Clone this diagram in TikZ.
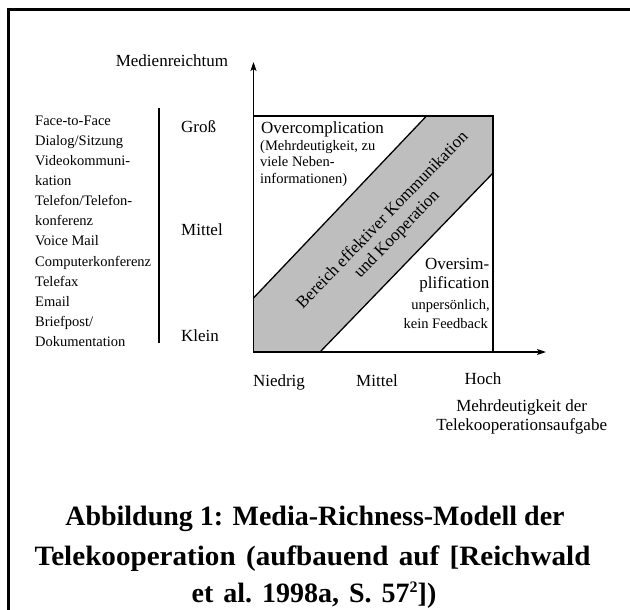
\documentclass[tikz,border=0pt]{standalone}
\usepackage{fontspec}
\setmainfont{Liberation Serif}
\usetikzlibrary{arrows.meta}
\newcommand\fsz[2]{\fontsize{#1}{#2}\selectfont}
\definecolor{bandgray}{RGB}{190,190,190}
\tikzset{
  txtsmall/.style={font=\fsz{14.5}{17}, inner sep=0pt},
  txtnormal/.style={font=\fsz{17}{20}, inner sep=0pt},
  txtcap/.style={font=\fsz{28}{39}\bfseries, inner sep=0pt},
  axisline/.style={line width=1.3pt, -{Stealth[length=9pt,width=6pt,inset=2pt]}},
  frameline/.style={line width=3pt},
  boxline/.style={line width=1.5pt},
  bandline/.style={line width=1.3pt},
  bandfill/.style={fill=bandgray},
}
\begin{document}
\begin{tikzpicture}[x=1pt,y=-1pt]
\useasboundingbox (0,0) rectangle (630,610);
% frame (top and left only)
\coordinate (f1) at (8.5,610);
\coordinate (f2) at (8.5,9.5);
\coordinate (f3) at (630,9.5);
\draw[frameline] (f1) -- (f2) -- (f3);
% band
\coordinate (O) at (253.5,352);
\coordinate (BL) at (253.5,298);
\coordinate (TL) at (253.5,116);
\coordinate (TU) at (426.5,116);
\coordinate (TR) at (493,116);
\coordinate (RL) at (493,173);
\coordinate (BR) at (493,352);
\coordinate (BU) at (320,352);
\fill[bandfill] (BL) -- (TU) -- (TR) -- (RL) -- (BU) -- (O) -- cycle;
\draw[boxline] (O) -- (TL) -- (TR) -- (BR) -- cycle;
\draw[bandline] (BL) -- (TU);
\draw[bandline] (BU) -- (RL);
% axes
\coordinate (ytip) at (253.5,62);
\coordinate (xtip) at (546,352);
\draw[axisline] (O) -- (ytip);
\draw[axisline] (O) -- (xtip);
% y-axis label
\node[txtnormal, anchor=base] (ylab) at (172,66.7) {Medienreichtum};
% media list
\foreach \t [count=\i] in {Face-to-Face, Dialog/Sitzung, Videokommuni-, kation, Telefon/Telefon-, konferenz, Voice Mail, Computerkonferenz, Telefax, Email, Briefpost/, Dokumentation}
  \node[txtsmall, anchor=base west] (m\i) at (35,{125+(\i-1)*20.15}) {\t};
% separator
\coordinate (s1) at (159,108);
\coordinate (s2) at (159,343);
\draw[line width=1.3pt] (s1) -- (s2);
% richness levels
\node[txtnormal, anchor=base west] (gross) at (181,132.7) {Groß};
\node[txtnormal, anchor=base west] (mittely) at (181,235) {Mittel};
\node[txtnormal, anchor=base west] (klein) at (181,341.7) {Klein};
% overcomplication
\node[txtnormal, anchor=base west] (oc) at (261,133) {Overcomplication};
\node[txtsmall, anchor=base west] (oc1) at (260,150) {(Mehrdeutigkeit, zu};
\node[txtsmall, anchor=base west] (oc2) at (260,166.5) {viele Neben-};
\node[txtsmall, anchor=base west] (oc3) at (260,183) {informationen)};
% oversimplification
\node[txtnormal, anchor=base east] (os1) at (489.5,269.5) {Oversim-};
\node[txtnormal, anchor=base east] (os2) at (489.5,288) {plification};
\node[txtsmall, anchor=base east] (os3) at (490,309) {unpersönlich,};
\node[txtsmall, anchor=base east] (os4) at (488,328) {kein Feedback};
% band text
\node[txtnormal, align=center, rotate=46] (bandtxt) at (390,227.5) {Bereich effektiver Kommunikation\\und Kooperation};
% x-axis labels
\node[txtnormal, anchor=base] (niedrig) at (279,386.5) {Niedrig};
\node[txtnormal, anchor=base] (mittelx) at (377,386.5) {Mittel};
\node[txtnormal, anchor=base] (hoch) at (483,384.5) {Hoch};
\node[txtnormal, anchor=base] (xl1) at (521.7,411.7) {Mehrdeutigkeit der};
\node[txtnormal, anchor=base] (xl2) at (521.7,430) {Telekooperationsaufgabe};
% caption
\node[txtcap, anchor=base] (c1) at (315,525) {Abbildung 1: Media-Richness-Modell der};
\node[txtcap, anchor=base, xscale=1.04] (c2) at (312.5,565) {\spaceskip=10pt\xspaceskip=10pt\relax Telekooperation (aufbauend auf [Reichwald};
\node[txtcap, anchor=base] (c3) at (314,602) {\spaceskip=10pt\xspaceskip=10pt\relax et al. 1998a, S. 57\raisebox{10pt}{\fsz{16}{16}\bfseries 2}])};
\end{tikzpicture}
\end{document}
